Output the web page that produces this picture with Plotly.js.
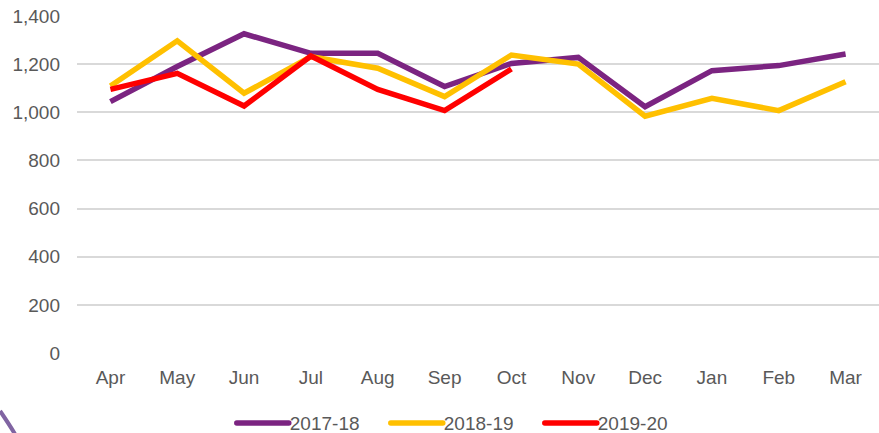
<!DOCTYPE html>
<html>
<head>
<meta charset="utf-8">
<script src="https://cdn.plot.ly/plotly-3.0.1.min.js"></script>
<style>html,body{margin:0;padding:0;background:#fff;}#chart{width:879px;height:433px;}</style>
</head>
<body>
<div id="chart"></div>
<script>
const months = ["Apr","May","Jun","Jul","Aug","Sep","Oct","Nov","Dec","Jan","Feb","Mar"];
const series2017 = [1044,1190,1326,1245,1245,1107,1203,1228,1023,1173,1194,1242];
const series2018 = [1109,1297,1079,1231,1183,1065,1238,1200,984,1058,1007,1127];
const series2019 = [1095,1162,1026,1234,1095,1007,1180];
const seriesNames = ["2017-18","2018-19","2019-20"];
const yTicks = [0,200,400,600,800,1000,1200,1400];
const yTickLabels = ["0","200","400","600","800","1,000","1,200","1,400"];

const colors = ["#7B2481","#FFC000","#FF0000"];
const allSeries = [series2017, series2018, series2019];
const traces = allSeries.map((vals,i)=>({
  type:"scatter", mode:"lines", name:seriesNames[i],
  x: months.slice(0, vals.length), y: vals,
  line:{color:colors[i], width:5.5, shape:"linear"},
  hoverinfo:"x+y+name"
}));

const layout = {
  width:879, height:433,
  margin:{l:77, r:0, t:16, b:80},
  paper_bgcolor:"#ffffff", plot_bgcolor:"#ffffff",
  font:{family:"Liberation Sans, Arial, sans-serif", size:19, color:"#595959"},
  xaxis:{type:"category", categoryorder:"array", categoryarray:months,
    range:[-0.5,11.5], showgrid:false, zeroline:false, showline:false, automargin:false,
    ticks:"", tickfont:{size:19,color:"#595959"}, ticklabelstandoff:11, fixedrange:true},
  yaxis:{range:[0,1400], tickvals:yTicks, ticktext:yTickLabels, automargin:false,
    showgrid:true, gridcolor:"#D9D9D9", gridwidth:2, zeroline:false, showline:false,
    ticks:"", tickfont:{size:19,color:"#595959"}, ticklabelstandoff:16, fixedrange:true},
  showlegend:true,
  legend:{orientation:"h", xref:"container", yref:"container",
    x:0.5265, xanchor:"center", y:0.023, yanchor:"middle",
    font:{size:19,color:"#595959"}, itemwidth:48, entrywidth:91, entrywidthmode:"pixels",
    tracegroupgap:0, bgcolor:"rgba(0,0,0,0)"},
  shapes:[{type:"path", xref:"paper", yref:"paper",
    path:"M -0.0959 -0.172 Q -0.085 -0.210 -0.0775 -0.240",
    line:{color:"#8064A2", width:4}}]
};
Plotly.newPlot("chart", traces, layout, {displayModeBar:false, staticPlot:true}).then(gd=>{
  gd.querySelectorAll(".legend .legendlines path").forEach(p=>{
    p.setAttribute("d","M5,0h52");
    p.style.strokeLinecap="round";
  });
});
</script>
</body>
</html>
